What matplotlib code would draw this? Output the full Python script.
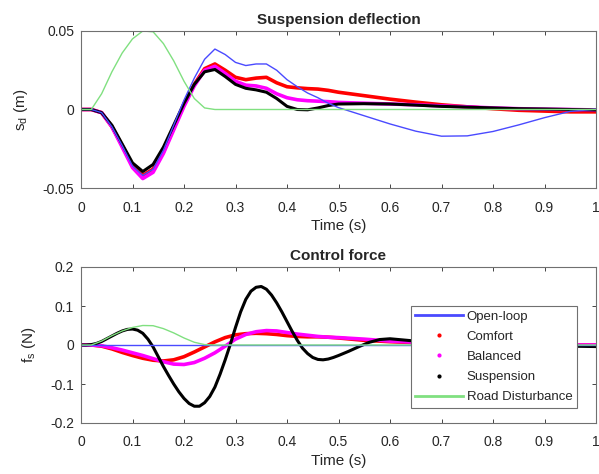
import matplotlib.pyplot as plt
from matplotlib.lines import Line2D

plt.rcParams['font.family'] = ['Liberation Sans', 'DejaVu Sans']
plt.rcParams['mathtext.fontset'] = 'custom'
plt.rcParams['mathtext.rm'] = 'Liberation Sans'
plt.rcParams['mathtext.it'] = 'Liberation Sans'

# time samples (s)
t = [0, 0.02, 0.04, 0.06, 0.08, 0.10, 0.12, 0.14, 0.16, 0.18, 0.20, 0.22, 0.24,
     0.26, 0.28, 0.30, 0.32, 0.34, 0.36, 0.38, 0.40, 0.42, 0.44, 0.46, 0.48, 0.50,
     0.55, 0.60, 0.65, 0.70, 0.75, 0.80, 0.85, 0.90, 0.95, 1.0]
# finer time samples for the oscillating suspension-mode force
t_fine = [0, 0.01, 0.02, 0.03, 0.04, 0.05, 0.06, 0.07, 0.08, 0.09, 0.10, 0.11, 0.12, 0.13, 0.14,
          0.15, 0.16, 0.17, 0.18, 0.19, 0.20, 0.21, 0.22, 0.23, 0.24, 0.25, 0.26, 0.27, 0.28, 0.29,
          0.30, 0.31, 0.32, 0.33, 0.34, 0.35, 0.36, 0.37, 0.38, 0.39, 0.40, 0.41, 0.42, 0.43, 0.44,
          0.45, 0.46, 0.47, 0.48, 0.49, 0.50, 0.52, 0.54, 0.56, 0.58, 0.60, 0.65, 0.70, 0.75, 0.80,
          0.85, 0.90, 0.95, 1.0]

# suspension deflection (m)
sd_open = [0, 0, -0.002, -0.011, -0.023, -0.036, -0.042, -0.038, -0.026, -0.010, 0.006, 0.020, 0.032,
           0.0385, 0.035, 0.030, 0.028, 0.029, 0.029, 0.025, 0.019, 0.0145, 0.0105, 0.0075, 0.004, 0.0012,
           -0.004, -0.0092, -0.0138, -0.017, -0.0168, -0.014, -0.0098, -0.0052, -0.0012, 0.0002]
sd_comfort = [0, 0, -0.002, -0.011, -0.023, -0.036, -0.042, -0.038, -0.027, -0.012, 0.003, 0.016, 0.026,
              0.029, 0.025, 0.0205, 0.019, 0.020, 0.0205, 0.017, 0.0145, 0.0138, 0.0133, 0.013, 0.0122, 0.011,
              0.0088, 0.0066, 0.0047, 0.003, 0.0017, 0.0005, -0.0005, -0.001, -0.0015, -0.0015]
sd_balanced = [0, 0, -0.002, -0.011, -0.024, -0.037, -0.044, -0.040, -0.028, -0.013, 0.002, 0.015, 0.025,
               0.0275, 0.023, 0.018, 0.0155, 0.015, 0.0135, 0.010, 0.0075, 0.0062, 0.0056, 0.0053, 0.005, 0.0045,
               0.004, 0.0035, 0.003, 0.0023, 0.0017, 0.001, 0.0005, 0.0002, 0, -0.0003]
sd_susp = [0, 0, -0.002, -0.010, -0.022, -0.034, -0.0395, -0.035, -0.024, -0.010, 0.004, 0.016, 0.024,
           0.0255, 0.021, 0.016, 0.0135, 0.0125, 0.011, 0.007, 0.002, 0.0, -0.0002, 0.001, 0.0025, 0.0035,
           0.0037, 0.0035, 0.0028, 0.002, 0.0015, 0.001, 0.0005, 0.0003, 0.0, -0.0003]
road = [0, 0, 0.010, 0.024, 0.036, 0.045, 0.050, 0.0495, 0.042, 0.031, 0.018, 0.007, 0.001,
        0, 0, 0, 0, 0, 0, 0, 0, 0, 0, 0, 0, 0,
        0, 0, 0, 0, 0, 0, 0, 0, 0, 0]

# control force (N)
fs_open = [0] * len(t)
fs_comfort = [0, 0, -0.003, -0.010, -0.019, -0.027, -0.034, -0.039, -0.041, -0.038, -0.030, -0.018, -0.005,
              0.008, 0.019, 0.026, 0.029, 0.030, 0.029, 0.027, 0.024, 0.022, 0.021, 0.021, 0.020, 0.018,
              0.012, 0.0085, 0.006, 0.004, 0.003, 0.002, 0.001, 0.0, 0.0, 0.0]
fs_balanced = [0, 0, -0.002, -0.007, -0.013, -0.020, -0.027, -0.035, -0.043, -0.049, -0.050, -0.045, -0.034,
               -0.020, -0.003, 0.015, 0.027, 0.034, 0.037, 0.036, 0.032, 0.028, 0.025, 0.022, 0.020, 0.019,
               0.015, 0.010, 0.007, 0.005, 0.003, 0.002, 0.001, 0, 0, 0]
fs_susp = [0, 0, 0.001, 0.004, 0.009, 0.016, 0.023, 0.030, 0.036, 0.040, 0.041, 0.038, 0.030, 0.015, -0.005,
           -0.030, -0.055, -0.078, -0.100, -0.120, -0.137, -0.150, -0.157, -0.157, -0.148, -0.132, -0.108, -0.075, -0.038, 0.002,
           0.045, 0.085, 0.117, 0.138, 0.148, 0.150, 0.143, 0.128, 0.108, 0.085, 0.060, 0.035, 0.012, -0.008, -0.022,
           -0.032, -0.037, -0.038, -0.036, -0.032, -0.027, -0.016, -0.004, 0.007, 0.014, 0.016, 0.010, 0.002, -0.002, -0.003,
           -0.002, -0.002, -0.003, -0.004]

c_open = '#4a4aff'
c_road = '#80e080'
txt = '#262626'

fig = plt.figure(figsize=(5.99, 4.74), dpi=100)
ax1 = fig.add_axes([81/599, 1-188/474, 515/599, 157/474])
ax2 = fig.add_axes([81/599, 1-423/474, 515/599, 156/474])

for ax, data, tx_susp, yl in [(ax1, [sd_open, sd_comfort, sd_balanced, sd_susp], t, r'$\mathrm{s_d}$ (m)'),
                              (ax2, [fs_open, fs_comfort, fs_balanced, fs_susp], t_fine, r'$\mathrm{f_s}$ (N)')]:
    ax.plot(t, data[1], color='red', lw=2.6)
    ax.plot(t, data[2], color='magenta', lw=2.6)
    ax.plot(tx_susp, data[3], color='black', lw=2.2)
    ax.plot(t, data[0], color=c_open, lw=1.0)
    ax.plot(t, road, color=c_road, lw=1.0)
    ax.set_xlim(0, 1)
    ax.set_xticks([0, 0.1, 0.2, 0.3, 0.4, 0.5, 0.6, 0.7, 0.8, 0.9, 1])
    ax.set_xticklabels(['0', '0.1', '0.2', '0.3', '0.4', '0.5', '0.6', '0.7', '0.8', '0.9', '1'])
    ax.tick_params(direction='in', top=True, right=True, labelsize=10, colors=txt,
                   length=3, width=0.6)
    ax.tick_params(axis='x', pad=9)
    ax.tick_params(axis='y', pad=5)
    for s in ax.spines.values():
        s.set_color('#707070')
        s.set_linewidth(0.8)
    ax.set_xlabel('Time (s)', fontsize=11, color=txt, labelpad=3)
    ax.set_ylabel(yl, fontsize=11, color=txt, labelpad=9)

ax1.set_ylim(-0.05, 0.05)
ax1.set_yticks([-0.05, 0, 0.05])
ax1.set_yticklabels(['-0.05', '0', '0.05'])
ax1.set_title('Suspension deflection', fontsize=11, fontweight='bold', color=txt, pad=5)

ax2.set_ylim(-0.2, 0.2)
ax2.set_yticks([-0.2, -0.1, 0, 0.1, 0.2])
ax2.set_yticklabels(['-0.2', '-0.1', '0', '0.1', '0.2'])
ax2.set_title('Control force', fontsize=11, fontweight='bold', color=txt, pad=5)

handles = [Line2D([], [], color=c_open, lw=2),
           Line2D([], [], color='red', marker='.', ms=4, ls='none'),
           Line2D([], [], color='magenta', marker='.', ms=4, ls='none'),
           Line2D([], [], color='black', marker='.', ms=4, ls='none'),
           Line2D([], [], color=c_road, lw=2)]
labels = ['Open-loop', 'Comfort', 'Balanced', 'Suspension', 'Road Disturbance']
leg = ax2.legend(handles, labels, loc='lower right', bbox_to_anchor=(0.963, 0.096),
                 fontsize=9.5, fancybox=False, framealpha=1, edgecolor='#707070',
                 handlelength=3.6, handletextpad=0.3, labelspacing=0.6,
                 borderpad=0.35, borderaxespad=0)
leg.get_frame().set_linewidth(0.8)
for tx in leg.get_texts():
    tx.set_color(txt)

fig.savefig('out.png', dpi=100)
